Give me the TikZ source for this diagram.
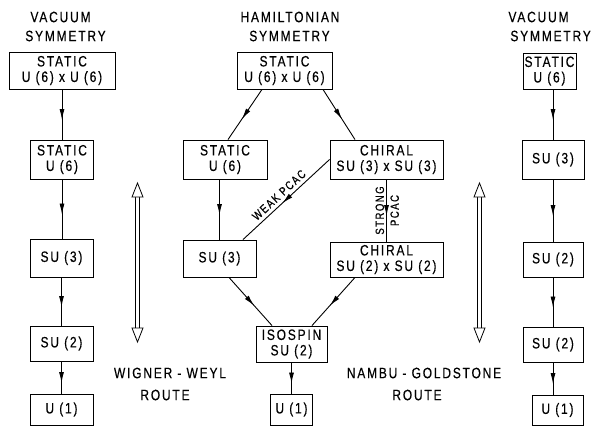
\documentclass[tikz,border=0pt]{standalone}
\usepackage{fontspec}
\setmainfont{Liberation Sans}[FakeStretch=0.8, LetterSpace=12, FakeBold=0.35]
\usetikzlibrary{arrows.meta,decorations.markings,calc}
\tikzset{
  box/.style={draw, line width=0.9pt, inner sep=0pt, align=center,
    font=\fontsize{15}{15.5}\selectfont},
  lbl/.style={inner sep=0pt, align=center, font=\fontsize{15}{15.5}\selectfont},
  small/.style={inner sep=2pt, font=\fontsize{12}{12}\selectfont},
  conn/.style={line width=0.9pt, postaction={decorate},
    decoration={markings, mark=at position 0.5 with
      {\arrow[xshift=5.5pt]{Latex[length=11pt,width=5pt]}}}},
  rail/.style={line width=0.7pt},
  hollow/.style={line width=0.8pt, fill=white}
}
\begin{document}
\begin{tikzpicture}[x=1pt,y=-1pt]
\useasboundingbox (0,0) rectangle (592,426);
\fill[white] (0,0) rectangle (592,426);
% headings
\node[lbl] (hl1) at (60.5,17) {VACUUM};
\node[lbl] (hl2) at (65.5,36) {SYMMETRY};
\node[lbl] (hm1) at (290,17) {HAMILTONIAN};
\node[lbl] (hm2) at (289.5,36) {SYMMETRY};
\node[lbl] (hr1) at (538.5,17) {VACUUM};
\node[lbl, anchor=east] (hr2) at (591,36) {SYMMETRY};
% left column
\node[box, minimum width=106, minimum height=37] (L1) at (62,70.5) {STATIC\\U (6) x U (6)};
\node[box, minimum width=63, minimum height=39] (L2) at (62,159.5) {STATIC\\U (6)};
\node[box, minimum width=63, minimum height=38] (L3) at (61.5,258) {SU (3)};
\node[box, minimum width=63, minimum height=35] (L4) at (61.5,343.5) {SU (2)};
\node[box, minimum width=63, minimum height=31] (L5) at (61.5,409.5) {U (1)};
\draw[conn] (L1.south -| L2.north) -- (L2.north);
\draw[conn] (L2.south) -- (L2.south |- L3.north);
\draw[conn] (L3.south) -- (L4.north);
\draw[conn] (L4.south) -- (L5.north);
% middle column
\node[box, minimum width=95, minimum height=37] (M1) at (284.5,70.5) {STATIC\\U (6) x U (6)};
\node[box, minimum width=84, minimum height=39] (M2) at (225,159.5) {STATIC\\U (6)};
\node[box, minimum width=113, minimum height=39] (M3) at (386.5,159.5) {CHIRAL\\SU (3) x SU (3)};
\node[box, minimum width=73, minimum height=37] (M4) at (219.5,258.5) {SU (3)};
\node[box, minimum width=113, minimum height=35] (M5) at (386.5,259.5) {CHIRAL\\SU (2) x SU (2)};
\node[box, minimum width=71, minimum height=36] (M6) at (291.5,344) {ISOSPIN\\SU (2)};
\node[box, minimum width=42, minimum height=31] (M7) at (291.5,409.5) {U (1)};
\draw[conn] ([xshift=-22.5pt]M1.south) -- ([xshift=3pt]M2.north);
\draw[conn] ([xshift=38.5pt]M1.south) -- ([xshift=-31.5pt]M3.north);
\draw[conn] (M4.north |- M2.south) -- (M4.north);
\draw[conn] (M3.west) -- node[small, sloped, above, pos=0.52, inner sep=3.5pt] {WEAK PCAC} ([xshift=23.5pt]M4.north);
\draw[conn] (M3.south) -- node[small, rotate=90, anchor=south] {STRONG}
  node[small, rotate=90, anchor=north, yshift=-1.5pt] {PCAC} (M5.north);
\draw[conn] ([xshift=9.5pt]M4.south) -- ([xshift=-19.5pt]M6.north);
\draw[conn] ([xshift=-31.5pt]M5.south) -- ([xshift=20.5pt]M6.north);
\draw[conn] (M6.south) -- (M7.north);
% right column
\node[box, minimum width=53, minimum height=36] (R1) at (549.5,71) {STATIC\\U (6)};
\node[box, minimum width=62, minimum height=39] (R2) at (553,159.5) {SU (3)};
\node[box, minimum width=60, minimum height=35] (R3) at (553,259.5) {SU (2)};
\node[box, minimum width=60, minimum height=35] (R4) at (553,344.5) {SU (2)};
\node[box, minimum width=51, minimum height=30] (R5) at (557.5,410) {U (1)};
\draw[conn] (R1.south -| R2.north) -- (R2.north);
\draw[conn] (R2.south) -- (R3.north);
\draw[conn] (R3.south) -- (R4.north);
\draw[conn] (R4.south) -- (R4.south |- R5.north);
% routes
\coordinate (wwt) at (137.5,183);
\coordinate (wwb) at (137.5,342);
\coordinate (ngt) at (479.5,183);
\coordinate (ngb) at (479.5,342);
\draw[rail] ($(wwt)+(-1.8,13)$) -- ($(wwb)+(-1.8,-13)$);
\draw[rail] ($(wwt)+(1.8,13)$) -- ($(wwb)+(1.8,-13)$);
\draw[rail] ($(ngt)+(-1.8,13)$) -- ($(ngb)+(-1.8,-13)$);
\draw[rail] ($(ngt)+(1.8,13)$) -- ($(ngb)+(1.8,-13)$);
\draw[hollow] (wwt) -- ++(-5.5,14) -- ++(11,0) -- cycle;
\draw[hollow] (wwb) -- ++(-5.5,-14) -- ++(11,0) -- cycle;
\draw[hollow] (ngt) -- ++(-5.5,14) -- ++(11,0) -- cycle;
\draw[hollow] (ngb) -- ++(-5.5,-14) -- ++(11,0) -- cycle;
\node[lbl] (ww1) at (170,373) {WIGNER - WEYL};
\node[lbl] (ww2) at (165,395) {ROUTE};
\node[lbl] (ng1) at (424,373) {NAMBU - GOLDSTONE};
\node[lbl] (ng2) at (417,395) {ROUTE};
\end{tikzpicture}
\end{document}
